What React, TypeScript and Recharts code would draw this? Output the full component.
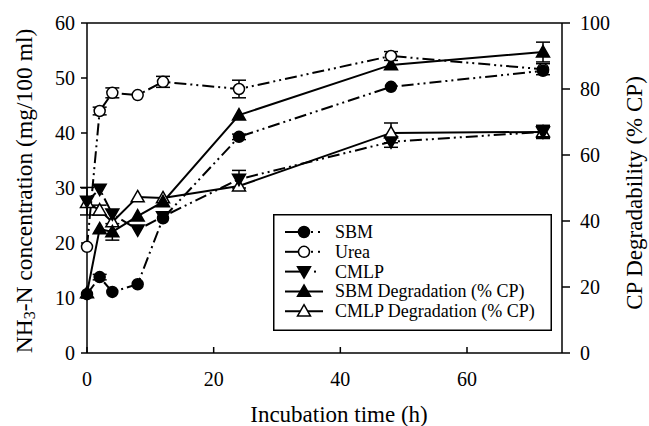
import {
  ComposedChart,
  ErrorBar,
  Line,
  ReferenceLine,
  XAxis,
  YAxis,
} from 'recharts';

const FONT = '"Liberation Serif", "Times New Roman", serif';

// incubation time (h)
const times = [0, 2, 4, 8, 12, 24, 48, 72];

// NH3-N concentration (mg/100 ml)
const sbm = [10.7, 13.8, 11.1, 12.5, 24.5, 39.3, 48.4, 51.3];
const urea = [19.3, 44.0, 47.3, 46.9, 49.3, 48.0, 54.0, 51.6];
const cmlp = [27.6, 29.8, 25.3, 22.4, 24.8, 31.6, 38.4, 40.2];

// CP degradability (% CP)
const sbmDeg = [18.2, 37.6, 36.7, 41.5, 45.8, 72.1, 87.3, 91.2];
const cmlpDeg = [45.6, 43.3, 39.7, 47.3, 47.0, 50.6, 66.7, 67.0];

// error bars
const sbmErr = [0, 0.5, 0, 0, 0, 0.5, 0, 0];
const ureaErr = [0, 0.7, 0.9, 0, 1.0, 1.6, 0.8, 1.0];
const cmlpErr = [2.5, 0, 0, 0, 0, 1.6, 1.0, 1.0];
const sbmDegErr = [0, 0, 2.5, 0, 0, 0, 0, 3];
const cmlpDegErr = [0, 1.5, 0, 0, 0, 0, 3, 2];

const xTicks = [0, 20, 40, 60];
const leftTicks = [0, 10, 20, 30, 40, 50, 60];
const rightTicks = [0, 20, 40, 60, 80, 100];

const data = times.map((t, i) => ({
  time: t,
  sbm: sbm[i],
  urea: urea[i],
  cmlp: cmlp[i],
  sbmDeg: sbmDeg[i],
  cmlpDeg: cmlpDeg[i],
  sbmErr: sbmErr[i],
  ureaErr: ureaErr[i],
  cmlpErr: cmlpErr[i],
  sbmDegErr: sbmDegErr[i],
  cmlpDegErr: cmlpDegErr[i],
}));

type Shape = 'circle' | 'down' | 'up';

const Marker = ({ cx, cy, shape, filled }: { cx: number; cy: number; shape: Shape; filled: boolean }) => {
  const fill = filled ? '#000' : '#fff';
  if (shape === 'circle') {
    return <circle cx={cx} cy={cy} r={5.5} fill={fill} stroke='#000' strokeWidth={1.5} />;
  }
  const s = 6.5;
  const pts =
    shape === 'up'
      ? `${cx},${cy - s} ${cx + s},${cy + s * 0.75} ${cx - s},${cy + s * 0.75}`
      : `${cx},${cy + s} ${cx + s},${cy - s * 0.75} ${cx - s},${cy - s * 0.75}`;
  return <polygon points={pts} fill={fill} stroke='#000' strokeWidth={1.5} />;
};

const dotFor = (shape: Shape, filled: boolean) => (props: any) => (
  <Marker key={props.index} cx={props.cx} cy={props.cy} shape={shape} filled={filled} />
);

const legendRows: { name: string; shape: Shape; filled: boolean; dots: number }[] = [
  { name: 'SBM', shape: 'circle', filled: true, dots: 2 },
  { name: 'Urea', shape: 'circle', filled: false, dots: 2 },
  { name: 'CMLP', shape: 'down', filled: true, dots: 1 },
  { name: 'SBM Degradation (% CP)', shape: 'up', filled: true, dots: 0 },
  { name: 'CMLP Degradation (% CP)', shape: 'up', filled: false, dots: 0 },
];

// legend drawn on its own so it does not take space from the plot
const LegendBox = () => (
  <svg
    width={279}
    height={117}
    style={{ position: 'absolute', left: 273, top: 214, display: 'block' }}>
    <rect x={0.75} y={0.75} width={277.5} height={115.5} fill='#fff' stroke='#000' strokeWidth={1.5} />
    {legendRows.map((r, i) => {
      const y = 18 + i * 19.8;
      return (
        <g key={r.name}>
          {r.dots === 0 ? (
            <line x1={12} x2={50} y1={y} y2={y} stroke='#000' strokeWidth={2} />
          ) : (
            <line x1={12} x2={28} y1={y} y2={y} stroke='#000' strokeWidth={2} />
          )}
          {Array.from({ length: r.dots }).map((_, k) => (
            <rect key={k} x={r.dots === 1 ? 41 : 38 + k * 7} y={y - 1} width={2} height={2} fill='#000' />
          ))}
          <Marker cx={31} cy={y} shape={r.shape} filled={r.filled} />
          <text x={62} y={y + 6} fontSize={18} fontFamily={FONT} fill='#000'>
            {r.name}
          </text>
        </g>
      );
    })}
  </svg>
);

const dashed = '12 4 2 4 2 4';

export default function App() {
  return (
    <div style={{ position: 'relative', width: 649, height: 426, background: '#fff' }}>
      <style>{'body{margin:0}'}</style>
      <ComposedChart
        width={649}
        height={426}
        data={data}
        margin={{ top: 23, right: 0, bottom: 0, left: 0 }}
        style={{ fontFamily: FONT }}>
        <XAxis
          dataKey='time'
          type='number'
          domain={[0, 75]}
          ticks={xTicks}
          height={73}
          stroke='#000'
          strokeWidth={1.5}
          tickSize={-6}
          tickMargin={25}
          tick={{ fill: '#000', fontSize: 20, fontFamily: FONT }}
          label={{
            content: () => (
              <text x={339} y={422} textAnchor='middle' fontSize={23} fontFamily={FONT} fill='#000'>
                Incubation time (h)
              </text>
            ),
          }}
        />
        <YAxis
          yAxisId='left'
          domain={[0, 60]}
          ticks={leftTicks}
          width={87}
          stroke='#000'
          strokeWidth={1.5}
          tickSize={6}
          tickMargin={6}
          tick={{ fill: '#000', fontSize: 20, fontFamily: FONT }}
          label={{
            content: () => (
              <text
                x={24}
                y={191}
                transform='rotate(-90 24 191)'
                textAnchor='middle'
                dominantBaseline='central'
                fontSize={23.5}
                fontFamily={FONT}
                fill='#000'>
                NH
                <tspan fontSize={16} dy={5}>
                  3
                </tspan>
                <tspan dy={-5}>-N concentration (mg/100 ml)</tspan>
              </text>
            ),
          }}
        />
        <YAxis
          yAxisId='right'
          orientation='right'
          domain={[0, 100]}
          ticks={rightTicks}
          width={87}
          stroke='#000'
          strokeWidth={1.5}
          tickSize={8}
          tickMargin={10}
          tick={{ fill: '#000', fontSize: 20, fontFamily: FONT, textAnchor: 'start' }}
          label={{
            content: () => (
              <text
                x={634}
                y={193}
                transform='rotate(-90 634 193)'
                textAnchor='middle'
                dominantBaseline='central'
                fontSize={23}
                fontFamily={FONT}
                fill='#000'>
                CP Degradability (% CP)
              </text>
            ),
          }}
        />
        <ReferenceLine yAxisId='left' y={60} stroke='#000' strokeWidth={1.5} />

        <Line
          yAxisId='right'
          dataKey='cmlpDeg'
          name='CMLP Degradation (% CP)'
          stroke='#000'
          strokeWidth={2}
          dot={dotFor('up', false)}
          isAnimationActive={false}>
          <ErrorBar dataKey='cmlpDegErr' width={7} stroke='#000' strokeWidth={1.5} />
        </Line>
        <Line
          yAxisId='right'
          dataKey='sbmDeg'
          name='SBM Degradation (% CP)'
          stroke='#000'
          strokeWidth={2}
          dot={dotFor('up', true)}
          isAnimationActive={false}>
          <ErrorBar dataKey='sbmDegErr' width={7} stroke='#000' strokeWidth={1.5} />
        </Line>
        <Line
          yAxisId='left'
          dataKey='cmlp'
          name='CMLP'
          stroke='#000'
          strokeWidth={2}
          strokeDasharray={dashed}
          dot={dotFor('down', true)}
          isAnimationActive={false}>
          <ErrorBar dataKey='cmlpErr' width={7} stroke='#000' strokeWidth={1.5} />
        </Line>
        <Line
          yAxisId='left'
          dataKey='urea'
          name='Urea'
          stroke='#000'
          strokeWidth={2}
          strokeDasharray={dashed}
          dot={dotFor('circle', false)}
          isAnimationActive={false}>
          <ErrorBar dataKey='ureaErr' width={7} stroke='#000' strokeWidth={1.5} />
        </Line>
        <Line
          yAxisId='left'
          dataKey='sbm'
          name='SBM'
          stroke='#000'
          strokeWidth={2}
          strokeDasharray={dashed}
          dot={dotFor('circle', true)}
          isAnimationActive={false}>
          <ErrorBar dataKey='sbmErr' width={7} stroke='#000' strokeWidth={1.5} />
        </Line>
      </ComposedChart>
      <LegendBox />
    </div>
  );
}
